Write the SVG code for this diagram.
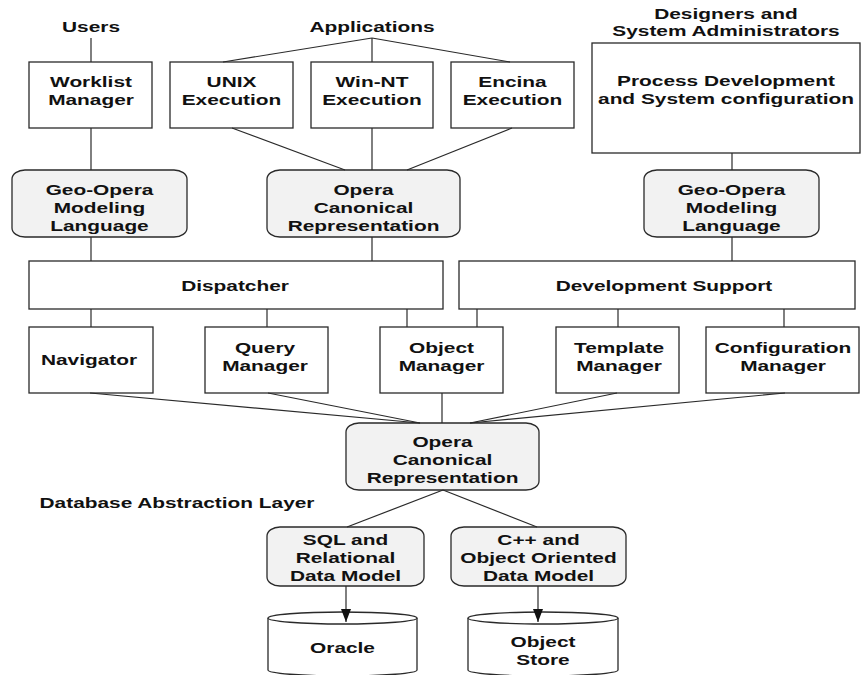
<svg xmlns="http://www.w3.org/2000/svg" width="861" height="675" viewBox="0 0 861 675">
<defs>
<style>
.box{fill:#fff;stroke:#2a2a2a;stroke-width:1.3}
.rbox{fill:#f2f2f2;stroke:#2a2a2a;stroke-width:1.3}
.ln{stroke:#2a2a2a;stroke-width:1.2;fill:none}
text{font-family:"Liberation Sans",Arial,sans-serif;font-weight:bold;font-size:15px;fill:#111;text-anchor:middle}
</style>
<marker id="arrow" markerWidth="13" markerHeight="10" refX="13" refY="5" orient="auto" markerUnits="userSpaceOnUse" viewBox="0 0 13 10">
<path d="M0,0 L13,5 L0,10 Z" fill="#111"/>
</marker>
</defs>
<rect width="861" height="675" fill="#fff"/>

<g id="labels">
<text transform="translate(91,32) scale(1.39,1)">Users</text>
<text transform="translate(372,32) scale(1.39,1)">Applications</text>
<text transform="translate(726,19) scale(1.39,1)">Designers and</text>
<text transform="translate(726,36) scale(1.39,1)">System Administrators</text>
<text transform="translate(177,508) scale(1.39,1)">Database Abstraction Layer</text>
</g>

<g id="worklist">
<rect class="box" x="29" y="62" width="123" height="66"/>
<text transform="translate(91,87) scale(1.39,1)">Worklist</text>
<text transform="translate(91,105) scale(1.39,1)">Manager</text>
</g>
<g id="unix">
<rect class="box" x="170" y="62" width="123" height="66"/>
<text transform="translate(231.5,87) scale(1.39,1)">UNIX</text>
<text transform="translate(231.5,105) scale(1.39,1)">Execution</text>
</g>
<g id="winnt">
<rect class="box" x="311" y="62" width="122" height="66"/>
<text transform="translate(372,87) scale(1.39,1)">Win-NT</text>
<text transform="translate(372,105) scale(1.39,1)">Execution</text>
</g>
<g id="encina">
<rect class="box" x="451" y="62" width="123" height="66"/>
<text transform="translate(512.5,87) scale(1.39,1)">Encina</text>
<text transform="translate(512.5,105) scale(1.39,1)">Execution</text>
</g>
<g id="process">
<rect class="box" x="592" y="43" width="268" height="110"/>
<text transform="translate(726,86) scale(1.39,1)">Process Development</text>
<text transform="translate(726,104) scale(1.39,1)">and System configuration</text>
</g>

<g id="geo-left">
<rect class="rbox" x="12" y="170" width="175" height="67" rx="13" ry="9"/>
<text transform="translate(99.5,195) scale(1.39,1)">Geo-Opera</text>
<text transform="translate(99.5,213) scale(1.39,1)">Modeling</text>
<text transform="translate(99.5,231) scale(1.39,1)">Language</text>
</g>
<g id="opera-top">
<rect class="rbox" x="267" y="170" width="193" height="67" rx="13" ry="9"/>
<text transform="translate(363.5,195) scale(1.39,1)">Opera</text>
<text transform="translate(363.5,213) scale(1.39,1)">Canonical</text>
<text transform="translate(363.5,231) scale(1.39,1)">Representation</text>
</g>
<g id="geo-right">
<rect class="rbox" x="644" y="170" width="175" height="67" rx="13" ry="9"/>
<text transform="translate(731.5,195) scale(1.39,1)">Geo-Opera</text>
<text transform="translate(731.5,213) scale(1.39,1)">Modeling</text>
<text transform="translate(731.5,231) scale(1.39,1)">Language</text>
</g>

<g id="dispatcher">
<rect class="box" x="29" y="261" width="414" height="48"/>
<text transform="translate(235,291) scale(1.39,1)">Dispatcher</text>
</g>
<g id="devsupport">
<rect class="box" x="459" y="261" width="396" height="48"/>
<text transform="translate(664,291) scale(1.39,1)">Development Support</text>
</g>

<g id="navigator">
<rect class="box" x="29" y="327" width="124" height="66"/>
<text transform="translate(89,365) scale(1.39,1)">Navigator</text>
</g>
<g id="query">
<rect class="box" x="205" y="327" width="123" height="66"/>
<text transform="translate(265,353) scale(1.39,1)">Query</text>
<text transform="translate(265,371) scale(1.39,1)">Manager</text>
</g>
<g id="object">
<rect class="box" x="380" y="327" width="123" height="66"/>
<text transform="translate(441.5,353) scale(1.39,1)">Object</text>
<text transform="translate(441.5,371) scale(1.39,1)">Manager</text>
</g>
<g id="template">
<rect class="box" x="556" y="327" width="123" height="66"/>
<text transform="translate(619,353) scale(1.39,1)">Template</text>
<text transform="translate(619,371) scale(1.39,1)">Manager</text>
</g>
<g id="configuration">
<rect class="box" x="706" y="327" width="153" height="66"/>
<text transform="translate(783,353) scale(1.39,1)">Configuration</text>
<text transform="translate(783,371) scale(1.39,1)">Manager</text>
</g>

<g id="opera-bottom">
<rect class="rbox" x="346" y="423" width="193" height="67" rx="13" ry="9"/>
<text transform="translate(442.5,447) scale(1.39,1)">Opera</text>
<text transform="translate(442.5,465) scale(1.39,1)">Canonical</text>
<text transform="translate(442.5,483) scale(1.39,1)">Representation</text>
</g>

<g id="sql">
<rect class="rbox" x="267" y="527" width="157" height="59" rx="13" ry="9"/>
<text transform="translate(345.5,545) scale(1.39,1)">SQL and</text>
<text transform="translate(345.5,563) scale(1.39,1)">Relational</text>
<text transform="translate(345.5,581) scale(1.39,1)">Data Model</text>
</g>
<g id="cpp">
<rect class="rbox" x="451" y="527" width="175" height="59" rx="13" ry="9"/>
<text transform="translate(538.5,545) scale(1.39,1)">C++ and</text>
<text transform="translate(538.5,563) scale(1.39,1)">Object Oriented</text>
<text transform="translate(538.5,581) scale(1.39,1)">Data Model</text>
</g>

<g id="oracle">
<path class="box" d="M268,618 L268,670 A74.5,6 0 0 0 417,670 L417,618"/>
<ellipse class="box" cx="342.5" cy="618" rx="74.5" ry="6"/>
<text transform="translate(342.5,653) scale(1.39,1)">Oracle</text>
</g>
<g id="objectstore">
<path class="box" d="M468,618 L468,670 A75,6 0 0 0 618,670 L618,618"/>
<ellipse class="box" cx="543" cy="618" rx="75" ry="6"/>
<text transform="translate(543,647) scale(1.39,1)">Object</text>
<text transform="translate(543,665) scale(1.39,1)">Store</text>
</g>

<g id="connectors">
<line class="ln" x1="91" y1="38" x2="91" y2="62"/>
<line class="ln" x1="372" y1="38" x2="223" y2="62"/>
<line class="ln" x1="372" y1="38" x2="372" y2="62"/>
<line class="ln" x1="372" y1="38" x2="510" y2="62"/>
<line class="ln" x1="91" y1="128" x2="91" y2="170"/>
<line class="ln" x1="232" y1="128" x2="345" y2="170"/>
<line class="ln" x1="372" y1="128" x2="372" y2="170"/>
<line class="ln" x1="512" y1="128" x2="407" y2="170"/>
<line class="ln" x1="732" y1="153" x2="732" y2="170"/>
<line class="ln" x1="91" y1="237" x2="91" y2="261"/>
<line class="ln" x1="372" y1="237" x2="372" y2="261"/>
<line class="ln" x1="732" y1="237" x2="732" y2="261"/>
<line class="ln" x1="91" y1="309" x2="91" y2="327"/>
<line class="ln" x1="267" y1="309" x2="267" y2="327"/>
<line class="ln" x1="407" y1="309" x2="407" y2="327"/>
<line class="ln" x1="477" y1="309" x2="477" y2="327"/>
<line class="ln" x1="618" y1="309" x2="618" y2="327"/>
<line class="ln" x1="784" y1="309" x2="784" y2="327"/>
<line class="ln" x1="90" y1="393" x2="420" y2="423"/>
<line class="ln" x1="268" y1="393" x2="420" y2="423"/>
<line class="ln" x1="442" y1="393" x2="442" y2="423"/>
<line class="ln" x1="617" y1="393" x2="470" y2="423"/>
<line class="ln" x1="785" y1="393" x2="470" y2="423"/>
<line class="ln" x1="443" y1="490" x2="347" y2="527"/>
<line class="ln" x1="443" y1="490" x2="537" y2="527"/>
<line class="ln" x1="346" y1="586" x2="346" y2="622" marker-end="url(#arrow)"/>
<line class="ln" x1="538" y1="586" x2="538" y2="622" marker-end="url(#arrow)"/>
</g>
</svg>
